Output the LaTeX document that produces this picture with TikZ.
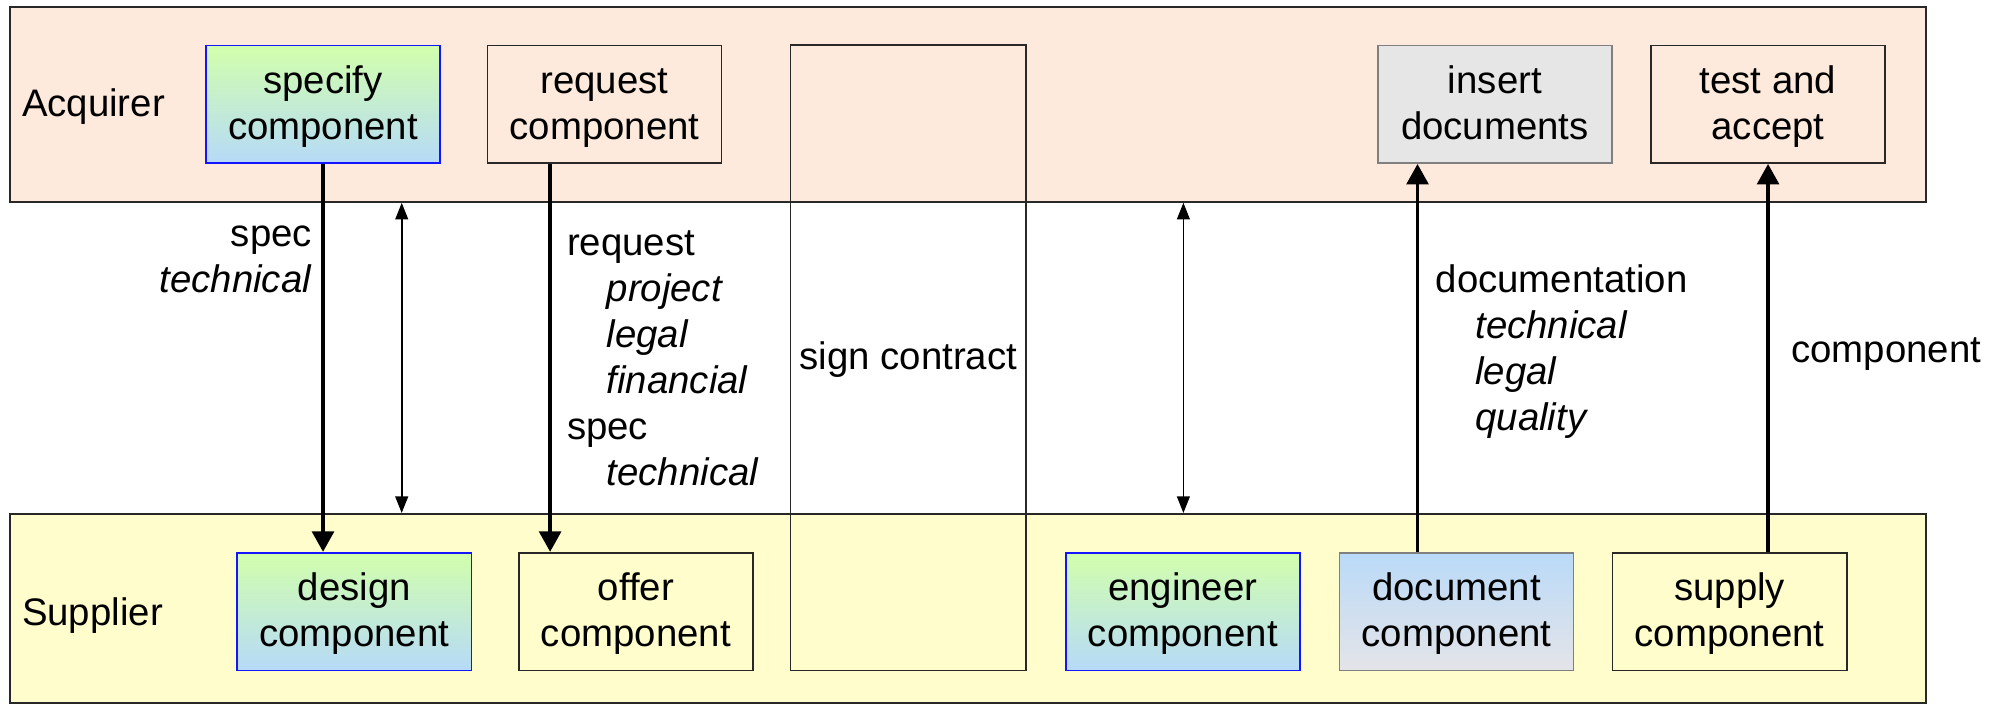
\documentclass[tikz,border=0pt]{standalone}
\usepackage{fontspec}
\setmainfont{Liberation Sans}
\usetikzlibrary{arrows.meta}
\definecolor{acqfill}{RGB}{253,234,220}
\definecolor{supfill}{RGB}{255,253,204}
\definecolor{gtop}{RGB}{210,255,172}
\definecolor{bbot}{RGB}{182,218,248}
\definecolor{dtop}{RGB}{186,218,248}
\definecolor{dbot}{RGB}{228,228,232}
\definecolor{grayfill}{RGB}{230,230,230}
\definecolor{bluebord}{RGB}{20,20,255}
\definecolor{graybord}{RGB}{128,128,128}
\definecolor{darkbord}{RGB}{40,40,40}
\newcommand{\topstr}{\rule{0pt}{27.2pt}}
\newcommand{\botstr}{\rule[-8.8pt]{0pt}{8.8pt}}
\tikzset{
  band/.style={draw=darkbord, line width=1.5pt, inner sep=0pt, anchor=north west},
  box/.style={draw=darkbord, line width=1.3pt, minimum width=183pt, minimum height=92pt,
              align=center, inner sep=0pt, font=\fontsize{30}{36}\selectfont},
  greenbox/.style={box, draw=bluebord, top color=gtop, bottom color=bbot},
  docbox/.style={box, draw=graybord, top color=dtop, bottom color=dbot},
  graybox/.style={box, draw=graybord, fill=grayfill},
  lbl/.style={inner sep=0pt, font=\fontsize{30}{36}\selectfont},
  thickarrow/.style={line width=2.8pt, -{Triangle[length=16pt,width=17pt]}},
  thinarrow/.style={line width=1.3pt, {Triangle[length=13pt,width=10pt]}-{Triangle[length=13pt,width=10pt]}},
}
\begin{document}
\begin{tikzpicture}[x=1pt,y=-1pt]
\useasboundingbox (0,0) rectangle (1568,552);
% bands
\node[band, fill=acqfill, minimum width=1498pt, minimum height=152pt] (acq) at (7,5) {};
\node[band, fill=supfill, minimum width=1498pt, minimum height=148pt] (sup) at (7,401) {};
\node[lbl, anchor=west] (acqlbl) at (17,83) {Acquirer};
\node[lbl, anchor=west] (suplbl) at (17,481) {Supplier};
% sign contract
\node[box, minimum width=184pt, minimum height=489pt] (sign) at (710,279.5) {\topstr sign contract\botstr};
% acquirer boxes
\node[greenbox] (specify) at (252.5,81.5) {\topstr specify\\component\botstr};
\node[box] (request) at (472.5,81.5) {\topstr request\\component\botstr};
\node[graybox] (insert) at (1168.5,81.5) {\topstr insert\\documents\botstr};
\node[box] (test) at (1382,81.5) {\topstr test and\\accept\botstr};
% supplier boxes
\node[greenbox] (design) at (277,478) {\topstr design\\component\botstr};
\node[box] (offer) at (497,478) {\topstr offer\\component\botstr};
\node[greenbox] (engineer) at (924.5,478) {\topstr engineer\\component\botstr};
\node[docbox] (document) at (1138.5,478) {\topstr document\\component\botstr};
\node[box] (supply) at (1352,478) {\topstr supply\\component\botstr};
% helper coordinates
\coordinate (rx) at (430,0);
\coordinate (dx) at (1108,0);
\coordinate (c1) at (314,0);
\coordinate (c2) at (925,0);
% arrows
\draw[thickarrow] (specify.south) -- (specify.south |- design.north);
\draw[thickarrow] (request.south -| rx) -- (offer.north -| rx);
\draw[thickarrow] (document.north -| dx) -- (insert.south -| dx);
\draw[thickarrow] (supply.north -| test.south) -- (test.south);
\draw[thinarrow] (acq.south -| c1) -- (sup.north -| c1);
\draw[thinarrow] (acq.south -| c2) -- (sup.north -| c2);
% labels
\node[lbl, anchor=east, align=right] (speclbl) at (244,203) {spec\\\textit{technical}};
\node[lbl, anchor=west, align=left] (reqlbl) at (443,280) {request\\\hspace*{31pt}\textit{project}\\\hspace*{31pt}\textit{legal}\\\hspace*{31pt}\textit{financial}\\spec\\\hspace*{31pt}\textit{technical}};
\node[lbl, anchor=west, align=left] (doclbl) at (1122,275) {documentation\\\hspace*{31pt}\textit{technical}\\\hspace*{31pt}\textit{legal}\\\hspace*{31pt}\textit{quality}};
\node[lbl, anchor=west] (complbl) at (1400,277) {component};
\end{tikzpicture}
\end{document}
